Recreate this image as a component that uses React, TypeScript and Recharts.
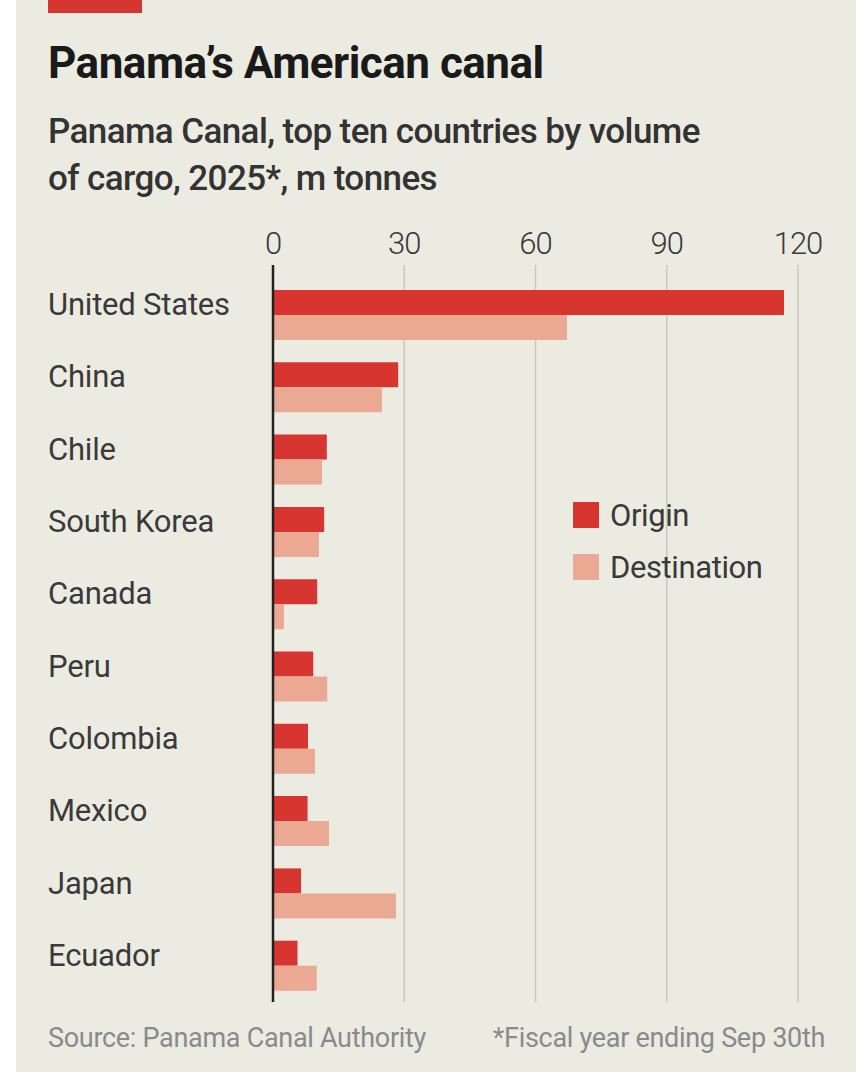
import { Bar, BarChart, CartesianGrid, Legend, ReferenceLine, XAxis, YAxis } from 'recharts';

// Panama Canal cargo by country, fiscal 2025, m tonnes
const countries = [
  'United States', 'China', 'Chile', 'South Korea', 'Canada',
  'Peru', 'Colombia', 'Mexico', 'Japan', 'Ecuador',
];
const origin = [116.8, 28.6, 12.3, 11.7, 10.1, 9.2, 8.0, 7.9, 6.4, 5.6];
const destination = [67.2, 24.9, 11.2, 10.5, 2.5, 12.4, 9.6, 12.8, 28.1, 10.0];
const xTicks = [0, 30, 60, 90, 120];

const RED = '#D7352F';
const SALMON = '#EBA893';
const BG = '#ECEBE2';
const FONT = 'Roboto, "Liberation Sans", sans-serif';

const series = [
  { key: 'origin', name: 'Origin', color: RED },
  { key: 'destination', name: 'Destination', color: SALMON },
];

const data = countries.map((country, i) => ({
  country,
  origin: origin[i],
  destination: destination[i],
}));

const CountryTick = ({ y, payload }: any) => (
  <text x={48} y={y} fill="#3a3a3a" fontSize={31} fontFamily={FONT} letterSpacing={-0.2}>
    {payload.value}
  </text>
);

const ValueTick = ({ x, payload }: any) => (
  <text x={x} y={254} textAnchor="middle" fill="#3a3a3a" fontSize={31} fontWeight={300}
    fontFamily={FONT} letterSpacing={-1}>
    {payload.value}
  </text>
);

// legend keeps the series order, not the payload order
const LegendBox = () => (
  <div style={{ fontFamily: FONT }}>
    {series.map((s) => (
      <div key={s.key} style={{ display: 'flex', alignItems: 'center', height: 52 }}>
        <span style={{ width: 26, height: 26, background: s.color, marginRight: 11 }} />
        <span style={{ fontSize: 31, color: '#3a3a3a', letterSpacing: -0.4 }}>{s.name}</span>
      </div>
    ))}
  </div>
);

const App = () => {
  return (
    <div style={{ position: 'absolute', left: 0, top: 0, width: 867, height: 1077, background: '#fff' }}>
      <div style={{ position: 'absolute', left: 16, top: 0, width: 840, height: 1072, background: BG }} />
      <div style={{ position: 'absolute', left: 48, top: 0, width: 94, height: 13, background: RED }} />

      <svg width={867} height={1077} style={{ position: 'absolute', left: 0, top: 0 }}>
        <text x={48} y={78} fontSize={44} fontWeight={700} fill="#1a1a1a" fontFamily={FONT} letterSpacing={-0.5}>
          Panama’s American canal
        </text>
        <text x={48} y={143} fontSize={35} fontWeight={500} fill="#333" fontFamily={FONT} letterSpacing={-0.6}>
          Panama Canal, top ten countries by volume
        </text>
        <text x={48} y={190} fontSize={35} fontWeight={500} fill="#333" fontFamily={FONT} letterSpacing={-0.6}>
          of cargo, 2025*, m tonnes
        </text>
        <text x={48} y={1047} fontSize={27} fill="#8a8a8a" fontFamily={FONT} letterSpacing={-0.3}>
          Source: Panama Canal Authority
        </text>
        <text x={825} y={1047} textAnchor="end" fontSize={27} fill="#8a8a8a" fontFamily={FONT} letterSpacing={-0.3}>
          *Fiscal year ending Sep 30th
        </text>
      </svg>

      <div style={{ position: 'absolute', left: 0, top: 0 }}>
        <BarChart
          width={867}
          height={1077}
          data={data}
          layout="vertical"
          barGap={0}
          margin={{ top: 225, right: 69, bottom: 75, left: 48 }}
        >
          <CartesianGrid horizontal={false} stroke="#c9c8c0" strokeWidth={1.5} />
          <XAxis
            type="number"
            orientation="top"
            domain={[0, 120]}
            ticks={xTicks}
            axisLine={false}
            tickLine={false}
            height={40}
            tick={<ValueTick />}
          />
          <YAxis
            type="category"
            dataKey="country"
            width={225}
            axisLine={false}
            tickLine={false}
            padding={{ top: 14, bottom: 0 }}
            tick={<CountryTick />}
            interval={0}
          />
          <Legend
            layout="vertical"
            verticalAlign="middle"
            align="center"
            content={<LegendBox />}
            wrapperStyle={{ position: 'absolute', left: 573, top: 489, width: 260 }}
          />
          {series.map((s) => (
            <Bar key={s.key} dataKey={s.key} name={s.name} fill={s.color} barSize={25} isAnimationActive={false} />
          ))}
          <ReferenceLine x={0} stroke="#222" strokeWidth={2.5} />
        </BarChart>
      </div>
    </div>
  );
};

export default App;
